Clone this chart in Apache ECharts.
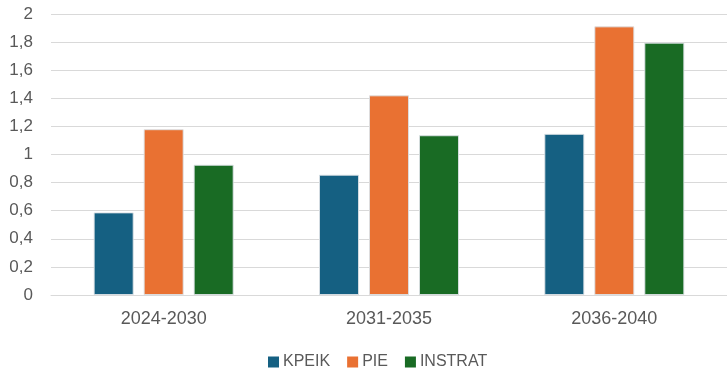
<!DOCTYPE html>
<html><head><meta charset="utf-8">
<script src="https://cdn.jsdelivr.net/npm/echarts@6/dist/echarts.min.js"></script>
<style>html,body{margin:0;padding:0;background:#fff}#c{width:727px;height:375px}</style>
</head><body><div id="c"></div>
<script>
const categories = ['2024-2030', '2031-2035', '2036-2040'];
const kpeik = [0.588, 0.856, 1.147];
const pie = [1.18, 1.421, 1.912];
const instrat = [0.927, 1.137, 1.796];
const seriesNames = ['KPEIK', 'PIE', 'INSTRAT'];
const colors = ['#156082', '#E97132', '#196B24'];
const font = 'Liberation Sans';
const chart = echarts.init(document.getElementById('c'), null, {renderer: 'canvas'});
const mk = (name, data, color) => ({
  name, type: 'bar', data, barWidth: 40, barGap: '25%',
  itemStyle: {color, borderColor: 'rgba(220,225,230,0.9)', borderWidth: 1},
  emphasis: {disabled: true}
});
chart.setOption({
  animation: false,
  grid: {left: 51, right: -7, top: 14, bottom: 80},
  legend: {
    bottom: 0, left: 263, itemWidth: 11, itemHeight: 11, itemGap: 17,
    icon: 'rect',
    itemStyle: {borderWidth: 0},
    textStyle: {fontFamily: font, fontSize: 16, color: '#595959', padding: [0,0,0,-1]},
    data: seriesNames
  },
  xAxis: {
    type: 'category', data: categories,
    axisLine: {show: true, lineStyle: {color: '#d9d9d9', width: 1}},
    axisTick: {show: false},
    axisLabel: {fontFamily: font, fontSize: 18, color: '#595959', margin: 15}
  },
  yAxis: {
    type: 'value', min: 0, max: 2, interval: 0.2,
    axisLine: {show: false}, axisTick: {show: false},
    splitLine: {lineStyle: {color: '#d9d9d9', width: 1}},
    axisLabel: {fontFamily: font, fontSize: 17, color: '#595959', margin: 18,
      formatter: v => String(Math.round(v * 10) / 10).replace('.', ',')}
  },
  series: [
    mk(seriesNames[0], kpeik, colors[0]),
    mk(seriesNames[1], pie, colors[1]),
    mk(seriesNames[2], instrat, colors[2])
  ]
});
</script></body></html>
